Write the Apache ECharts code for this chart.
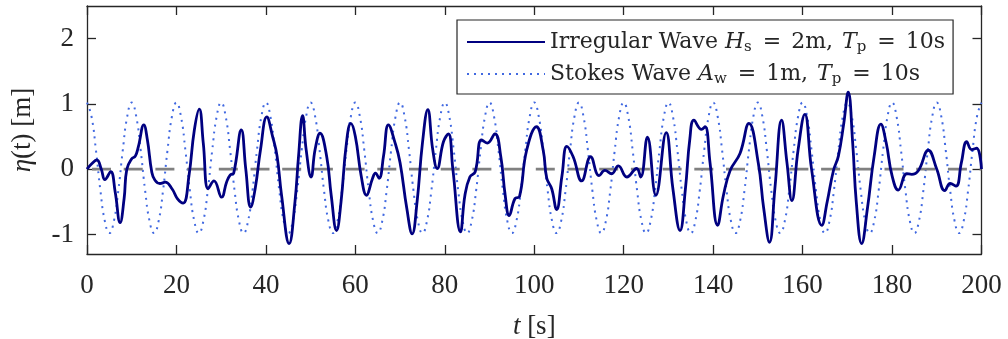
<!DOCTYPE html>
<html>
<head>
<meta charset="utf-8">
<script src="https://cdn.jsdelivr.net/npm/echarts@6/dist/echarts.min.js"></script>
<style>
  html, body { margin: 0; padding: 0; background: #fff; }
  #chart { width: 1008px; height: 339px; }
</style>
</head>
<body>
<div id="chart"></div>
<script>
// irregular wave, key points (t in s, eta in m)
const irregularT = [
  0, 1.0, 2.2, 3.2, 4.0, 5.3, 6.3, 7.4, 8.3, 8.9, 10.0, 10.8, 11.5, 12.7, 13.5, 14.5, 15.2, 16.3, 17.5, 19.0,
  20.2, 21.5, 22.8, 24.0, 25.1, 26.0, 27.1, 28.4, 30.1, 31.2, 32.0, 32.8, 34.5, 35.5, 36.6, 37.6, 38.8, 40.2, 41.5, 42.5,
  43.5, 45.2, 46.5, 47.3, 48.2, 49.0, 50.1, 51.0, 52.1, 53.6, 54.6, 55.8, 56.8, 58.0, 59.0, 60.0, 61.3, 62.5, 63.8, 64.5,
  65.3, 66.3, 67.4, 68.9, 70.0, 71.5, 72.7, 73.8, 75.0, 76.2, 77.3, 78.3, 79.7, 80.8, 81.8, 83.5, 84.5, 85.6, 86.8, 88.2,
  89.5, 91.2, 92.5, 93.5, 94.4, 95.7, 96.7, 98.3, 100.5, 102.0, 102.8, 103.9, 105.0, 106.2, 107.3, 108.7, 110.6, 112.6, 114.5, 115.8,
  117.3, 118.8, 120.7, 122.9, 123.8, 125.3, 127.2, 129.5, 131.0, 132.6, 133.8, 134.8, 135.7, 137.4, 138.2, 139.3, 141.0, 142.3, 143.8, 146.0,
  148.0, 150.1, 151.3, 152.6, 153.8, 155.3, 156.5, 157.6, 159.0, 160.5, 162.0, 164.3, 165.5, 166.9, 168.0, 169.2, 170.2, 171.2, 172.0, 173.2,
  174.5, 176.0, 177.5, 178.7, 180.0, 181.4, 183.3, 184.4, 185.9, 188.1, 190.0, 191.8, 193.0, 194.3, 195.5, 196.7, 197.8, 198.9, 200
];
const irregularEta = [
  0.0, 0.08, 0.14, 0.0, -0.16, -0.04, -0.35, -0.82, -0.45, 0.0, 0.16, 0.2, 0.35, 0.68, 0.45, -0.05, -0.17, -0.22, -0.2, -0.3,
  -0.45, -0.52, -0.1, 0.6, 0.92, 0.4, -0.3, -0.18, -0.43, -0.2, -0.09, -0.06, 0.6, 0.0, -0.58, -0.3, 0.3, 0.8, 0.5, 0.2,
  -0.4, -1.14, -0.5, 0.2, 0.82, 0.3, -0.12, 0.3, 0.55, 0.19, -0.4, -0.94, -0.5, 0.4, 0.7, 0.5, -0.1, -0.4, -0.15, -0.06,
  -0.14, 0.2, 0.68, 0.4, 0.1, -0.6, -0.99, -0.5, 0.4, 0.91, 0.3, 0.01, 0.42, 0.54, 0.0, -0.96, -0.4, -0.12, -0.04, 0.45,
  0.4, 0.54, 0.2, -0.4, -0.71, -0.45, -0.42, 0.29, 0.65, 0.29, -0.14, -0.3, -0.62, -0.1, 0.35, 0.19, -0.18, 0.19, -0.1, -0.02,
  -0.07, 0.05, -0.12, 0.01, -0.12, 0.49, -0.4, 0.56, -0.3, -0.94, -0.3, 0.47, 0.75, 0.61, 0.65, 0.1, -0.86, -0.4, -0.02, 0.24,
  0.7, 0.09, -0.6, -1.12, -0.3, 0.75, 0.1, -0.48, 0.3, 0.84, 0.0, -0.86, -0.5, -0.02, 0.2, 0.7, 1.18, 0.4, -0.5, -1.14,
  -0.6, 0.2, 0.69, 0.4, -0.1, -0.32, -0.07, -0.08, -0.02, 0.29, 0.0, -0.33, -0.22, -0.26, 0.1, 0.42, 0.3, 0.32, 0.0
];

// stokes wave, one value per second from t = 0 to 200
const stokesEta = [
  1.02, 0.81, 0.29, -0.33, -0.80, -0.98, -0.80, -0.33, 0.29, 0.81,
  1.02, 0.81, 0.29, -0.33, -0.80, -0.98, -0.80, -0.33, 0.29, 0.81,
  1.02, 0.81, 0.29, -0.33, -0.80, -0.98, -0.80, -0.33, 0.29, 0.81,
  1.02, 0.81, 0.29, -0.33, -0.80, -0.98, -0.80, -0.33, 0.29, 0.81,
  1.02, 0.81, 0.29, -0.33, -0.80, -0.98, -0.80, -0.33, 0.29, 0.81,
  1.02, 0.81, 0.29, -0.33, -0.80, -0.98, -0.80, -0.33, 0.29, 0.81,
  1.02, 0.81, 0.29, -0.33, -0.80, -0.98, -0.80, -0.33, 0.29, 0.81,
  1.02, 0.81, 0.29, -0.33, -0.80, -0.98, -0.80, -0.33, 0.29, 0.81,
  1.02, 0.81, 0.29, -0.33, -0.80, -0.98, -0.80, -0.33, 0.29, 0.81,
  1.02, 0.81, 0.29, -0.33, -0.80, -0.98, -0.80, -0.33, 0.29, 0.81,
  1.02, 0.81, 0.29, -0.33, -0.80, -0.98, -0.80, -0.33, 0.29, 0.81,
  1.02, 0.81, 0.29, -0.33, -0.80, -0.98, -0.80, -0.33, 0.29, 0.81,
  1.02, 0.81, 0.29, -0.33, -0.80, -0.98, -0.80, -0.33, 0.29, 0.81,
  1.02, 0.81, 0.29, -0.33, -0.80, -0.98, -0.80, -0.33, 0.29, 0.81,
  1.02, 0.81, 0.29, -0.33, -0.80, -0.98, -0.80, -0.33, 0.29, 0.81,
  1.02, 0.81, 0.29, -0.33, -0.80, -0.98, -0.80, -0.33, 0.29, 0.81,
  1.02, 0.81, 0.29, -0.33, -0.80, -0.98, -0.80, -0.33, 0.29, 0.81,
  1.02, 0.81, 0.29, -0.33, -0.80, -0.98, -0.80, -0.33, 0.29, 0.81,
  1.02, 0.81, 0.29, -0.33, -0.80, -0.98, -0.80, -0.33, 0.29, 0.81,
  1.02, 0.81, 0.29, -0.33, -0.80, -0.98, -0.80, -0.33, 0.29, 0.81,
  1.02
];

const zeroLine = [[0, 0], [200, 0]];
const yTicks = [-1, 0, 1, 2];

const serif = "'Liberation Serif', 'DejaVu Serif', serif";
const legendFont = "'DejaVu Serif', 'Liberation Serif', serif";
const axisColor = '#262626';

const chart = echarts.init(document.getElementById('chart'), null, { renderer: 'canvas' });

const frameAxis = {
  axisLine: { show: true, onZero: false, lineStyle: { color: axisColor, width: 1.3 } },
  axisTick: { show: true, inside: true, length: 9, lineStyle: { color: axisColor, width: 1.3 } },
  splitLine: { show: false }
};

const legendRich = {
  n: { fontFamily: legendFont, fontSize: 22, color: axisColor },
  c: { fontFamily: legendFont, fontSize: 22, color: axisColor, padding: [0, 2, 0, 0] },
  e: { fontFamily: legendFont, fontSize: 22, color: axisColor, padding: [0, 10, 0, 10] },
  i: { fontFamily: legendFont, fontSize: 22, color: axisColor, fontStyle: 'italic' },
  s: { fontFamily: legendFont, fontSize: 15, color: axisColor, padding: [10, 1, 0, 0] }
};

const option = {
  animation: false,
  backgroundColor: '#fff',
  grid: { left: 87, right: 26.5, top: 6, bottom: 85, containLabel: false, outerBoundsMode: 'none' },
  legend: {
    data: ['irregular', 'stokes'],
    orient: 'vertical',
    left: 457,
    top: 20,
    padding: [9, 8, 7, 9],
    itemGap: 6,
    itemWidth: 78,
    itemHeight: 14,
    backgroundColor: '#fff',
    borderColor: axisColor,
    borderWidth: 1.2,
    borderRadius: 0,
    itemStyle: { opacity: 0 },
    textStyle: { fontFamily: legendFont, fontSize: 22, color: axisColor, lineHeight: 26, rich: legendRich },
    formatter: function (name) {
      if (name === 'irregular') {
        return '{n|Irregular Wave }{i|H}{s|s}{e|=}{c|2m, }{i|T}{s|p}{e|=}{n|10s}';
      }
      return '{n|Stokes Wave }{i|A}{s|w}{e|=}{c|1m, }{i|T}{s|p}{e|=}{n|10s}';
    }
  },
  xAxis: [
    Object.assign({}, frameAxis, {
      type: 'value', min: 0, max: 200, interval: 20, position: 'bottom',
      name: '{i|t} [s]', nameLocation: 'middle', nameGap: 59,
      nameTextStyle: {
        fontFamily: serif, fontSize: 27, color: axisColor,
        rich: { i: { fontFamily: serif, fontSize: 27, color: axisColor, fontStyle: 'italic' } }
      },
      axisLabel: { fontFamily: serif, fontSize: 27, color: axisColor, margin: 18 }
    }),
    Object.assign({}, frameAxis, {
      type: 'value', min: 0, max: 200, interval: 20, position: 'top',
      axisLabel: { show: false }
    })
  ],
  yAxis: [
    Object.assign({}, frameAxis, {
      type: 'value', min: -1.3, max: 2.5, position: 'left',
      name: '{i|η}(t) [m]', nameLocation: 'middle', nameGap: 51, nameRotate: 90,
      nameTextStyle: {
        fontFamily: serif, fontSize: 27, color: axisColor,
        rich: { i: { fontFamily: serif, fontSize: 27, color: axisColor, fontStyle: 'italic' } }
      },
      axisTick: Object.assign({}, frameAxis.axisTick, { customValues: yTicks }),
      axisLabel: { fontFamily: serif, fontSize: 27, color: axisColor, margin: 13, customValues: yTicks }
    }),
    Object.assign({}, frameAxis, {
      type: 'value', min: -1.3, max: 2.5, position: 'right',
      axisTick: Object.assign({}, frameAxis.axisTick, { customValues: yTicks }),
      axisLabel: { show: false, customValues: yTicks }
    })
  ],
  series: [
    {
      name: 'stokes',
      type: 'line',
      z: 2,
      symbol: 'none',
      smooth: 0.5,
      data: stokesEta.map((v, i) => [i, v]),
      lineStyle: { color: '#4169e1', width: 2, type: [2, 5], cap: 'butt' },
      itemStyle: { color: '#4169e1' }
    },
    {
      name: 'zero',
      type: 'line',
      z: 3,
      symbol: 'none',
      data: zeroLine,
      lineStyle: { color: '#808080', width: 2.6, type: [19, 12.7], dashOffset: 26.7 },
      silent: true
    },
    {
      name: 'irregular',
      type: 'line',
      z: 4,
      symbol: 'none',
      smooth: 0.45,
      data: irregularT.map((t, i) => [t, irregularEta[i]]),
      lineStyle: { color: '#000080', width: 2.8 },
      itemStyle: { color: '#000080' }
    }
  ]
};

chart.setOption(option);
window.addEventListener('resize', () => chart.resize());
</script>
</body>
</html>
